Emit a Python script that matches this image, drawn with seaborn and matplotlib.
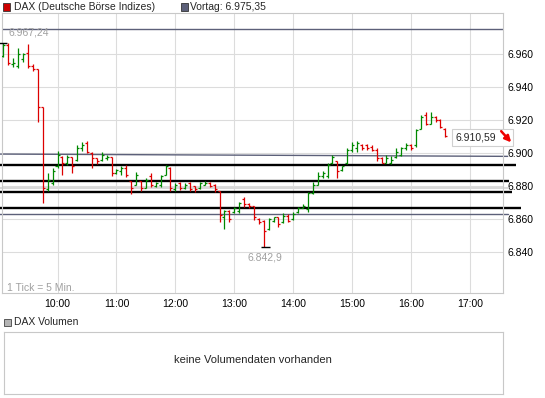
import pandas as pd
import matplotlib.pyplot as plt
import matplotlib.patches as mpatches
import seaborn as sns

# 5-minute OHLC bars of the DAX, 09:05 .. 16:35
times = pd.date_range("2012-01-01 09:05", periods=91, freq="5min")
opens = [6959, 6966, 6954, 6953, 6957, 6961, 6953, 6951, 6928, 6878,
         6882, 6892, 6898, 6894, 6898, 6896, 6903, 6906, 6900, 6897,
         6896, 6897, 6898, 6888, 6889, 6891, 6883, 6881, 6883, 6879,
         6886, 6880, 6881, 6887, 6891, 6878, 6882, 6879, 6882, 6880,
         6879, 6881, 6882, 6881, 6877, 6861.5, 6865, 6864, 6865, 6872,
         6869, 6868, 6860, 6859, 6854, 6859, 6861, 6858, 6862, 6860,
         6864, 6867, 6866, 6876, 6881, 6886, 6886, 6894, 6895, 6890,
         6894, 6902, 6903, 6905, 6905, 6904, 6902, 6897, 6894, 6894,
         6898, 6899, 6903, 6905, 6905, 6915, 6923, 6918, 6922, 6920,
         6915]
highs = [6967.24, 6967, 6957.7, 6963.8, 6960.8, 6966.5, 6954, 6951.2, 6928.3, 6887.8,
         6890.9, 6901.4, 6898.5, 6899, 6898, 6905, 6906.7, 6907.5, 6900.6, 6897.3,
         6901, 6899, 6898, 6890.3, 6892.3, 6892.9, 6883.4, 6888.8, 6883.4, 6884.8,
         6888.2, 6882.7, 6886.8, 6892.9, 6891.5, 6882.1, 6882.7, 6882.1, 6882.7, 6880.1,
         6882.7, 6883.2, 6882.7, 6881.2, 6877, 6865.6, 6865.6, 6867.6, 6870.6, 6873.6,
         6869.6, 6868.2, 6860.9, 6859.5, 6860.5, 6861.5, 6861.5, 6863.5, 6862.9, 6864.5,
         6867.6, 6869, 6876.7, 6882.7, 6888.8, 6889.2, 6893.9, 6899, 6895.3, 6892.5,
         6903.4, 6906.7, 6907.5, 6905.5, 6905.5, 6905, 6903, 6898, 6899, 6898.5,
         6903, 6904, 6906, 6905.5, 6914.8, 6923.3, 6924.9, 6924.9, 6922.8, 6920.8,
         6915.6]
lows = [6958.7, 6953.6, 6952.6, 6952, 6955.7, 6951.6, 6950, 6919.2, 6869.6, 6877.1,
        6880.7, 6891.3, 6886.8, 6892.9, 6887.8, 6895.3, 6901.4, 6900, 6891.3, 6893.3,
        6895.5, 6896, 6886.2, 6887.4, 6886.8, 6885.4, 6875.3, 6880.7, 6877.3, 6878.7,
        6879.7, 6879.7, 6879.7, 6886.8, 6877.3, 6877.3, 6877.7, 6878.1, 6877.3, 6876.7,
        6878.1, 6880.7, 6879.7, 6876.7, 6858.4, 6853.8, 6858, 6863.5, 6863.5, 6867.6,
        6867, 6859.5, 6856.9, 6842.9, 6853.4, 6858.4, 6855.4, 6857.5, 6858, 6859.5,
        6863.5, 6867, 6864.5, 6875.1, 6880.7, 6884.8, 6884.8, 6893.3, 6884.8, 6889.2,
        6893.5, 6901, 6901, 6902, 6902, 6901.4, 6895.3, 6893.9, 6893.9, 6893.3,
        6897.3, 6898.5, 6902, 6902, 6904, 6914.5, 6917.2, 6917.5, 6919.2, 6915.2,
        6910.1]
closes = [6966, 6955, 6955, 6960, 6960, 6953, 6951, 6928, 6879, 6884,
          6889, 6899, 6894, 6898, 6892, 6903, 6905, 6901, 6897, 6895,
          6899, 6898, 6888, 6890, 6891, 6887, 6879, 6887, 6879, 6884,
          6881, 6882, 6886, 6892, 6879, 6881, 6879, 6881, 6878, 6878,
          6882, 6882, 6880, 6878, 6862.5, 6865, 6860, 6867, 6870, 6869,
          6868, 6861, 6858, 6853, 6860, 6861, 6857, 6862, 6859, 6863,
          6867, 6868, 6876, 6881, 6886, 6888, 6893, 6898, 6889, 6892,
          6902, 6905, 6906, 6903, 6903, 6902, 6897, 6894, 6897, 6896,
          6901, 6903, 6905, 6903, 6914, 6922, 6918, 6922, 6920, 6916,
          6910.59]

prev_close = 6975.35
day_high = 6967.24
day_low = 6842.9
last_price = "6.910,59"

# lines drawn on the chart (levels and where they end, in hours)
black_levels = [6892.8, 6883.1, 6876.4, 6866.7]
black_ends = [17.78, 17.663, 17.714, 17.867]
trend_upper = ([9.0, 17.64], [6899.5, 6898.1])
trend_lower = ([9.0, 17.65], [6862.9, 6862.9])

hour_ticks = [10, 11, 12, 13, 14, 15, 16, 17]
price_ticks = [6840, 6860, 6880, 6900, 6920, 6940, 6960]

sns.set_theme(style="white")
plt.rcParams['font.family'] = ['Liberation Sans', 'DejaVu Sans']

df = pd.DataFrame({"time": times, "open": opens, "high": highs,
                   "low": lows, "close": closes})
df["t"] = df["time"].dt.hour + df["time"].dt.minute / 60
df["col"] = ["#008800" if c > o else "#dd0000" for o, c in zip(df["open"], df["close"])]

W, H = 545, 398
fig = plt.figure(figsize=(W / 100, H / 100), dpi=100)
ax = fig.add_axes([2 / W, 1 - 293.3 / H, 501 / W, 280.3 / H])

grid_c = "#dcdcdc"
for s in ax.spines.values():
    s.set_color("#c8c8c8")
    s.set_linewidth(0.8)

ax.set_xlim(9.058, 17.561)
ax.set_ylim(6814.9, 6985.2)
for h in hour_ticks:
    ax.axvline(h, color=grid_c, lw=0.8, zorder=0)
for p in price_ticks:
    ax.axhline(p, color=grid_c, lw=0.8, zorder=0)

# user lines
ax.plot([9.0, 17.561], [prev_close, prev_close], color="#5c6079", lw=1.0, zorder=1)
ax.plot(trend_upper[0], trend_upper[1], color="#5c6079", lw=1.0, clip_on=False, zorder=1)
ax.plot(trend_lower[0], trend_lower[1], color="#5c6079", lw=1.0, clip_on=False, zorder=1)
ax.plot([9.0, 17.65], [6878.6, 6878.6], color="#d8d8d8", lw=1.5, clip_on=False, zorder=1)
for lvl, end in zip(black_levels, black_ends):
    ax.plot([9.0, end], [lvl, lvl], color="black", lw=1.7, clip_on=False, zorder=2,
            solid_capstyle="butt")

# OHLC bars
d = 0.034
ax.vlines(df["t"], df["low"], df["high"], colors=df["col"], lw=0.9, zorder=3)
ax.hlines(df["open"], df["t"] - d, df["t"], colors=df["col"], lw=0.9, zorder=3)
ax.hlines(df["close"], df["t"], df["t"] + d, colors=df["col"], lw=0.9, zorder=3)

# high / low markers
ax.hlines(day_high, 9.0, 9.15, color="black", lw=1.0, clip_on=False, zorder=4)
ax.text(9.16, 6973.1, "6.967,24", color="#a0a0a0", fontsize=7.5, va="center", ha="left")
ax.hlines(day_low, 13.448, 13.601, color="black", lw=1.0, zorder=4)
ax.text(13.52, 6836.4, "6.842,9", color="#a0a0a0", fontsize=7.5, va="center", ha="center")
ax.text(9.136, 6818.0, "1 Tick = 5 Min.", color="#a0a0a0", fontsize=7.5, va="center", ha="left")

# last price box
box = mpatches.Rectangle((16.694, 6904.4), 1.041, 10.2, facecolor="white",
                         edgecolor="#d0d0d0", lw=0.8, clip_on=False, zorder=5)
ax.add_patch(box)
ax.text(16.76, 6909.5, last_price, fontsize=7.5, va="center", ha="left", zorder=6)
ax.annotate("", xy=(17.70, 6906.6), xytext=(17.53, 6913.4),
            arrowprops=dict(arrowstyle="-|>", color="#ee0000", lw=1.8,
                            mutation_scale=9, shrinkA=0, shrinkB=0),
            annotation_clip=False, zorder=6)

ax.set_xticks(hour_ticks)
ax.set_xticklabels([f"{h}:00" for h in hour_ticks])
ax.set_yticks(price_ticks)
ax.set_yticklabels([f"{p:,.0f}".replace(",", ".") for p in price_ticks])
ax.yaxis.tick_right()
ax.tick_params(axis="both", length=0, labelsize=7.5, colors="black")
ax.tick_params(axis="y", pad=3)
ax.tick_params(axis="x", pad=4)
ax.grid(False)

# header
fig.add_artist(mpatches.Rectangle((3.3 / W, 1 - 10.5 / H), 7 / W, 7 / H,
                                  facecolor="#cc0000", edgecolor="#333333", lw=0.6,
                                  transform=fig.transFigure))
fig.text(14 / W, 1 - 7 / H, "DAX (Deutsche Börse Indizes)", fontsize=7.5, va="center")
fig.add_artist(mpatches.Rectangle((180.5 / W, 1 - 10.5 / H), 7 / W, 7 / H,
                                  facecolor="#5c6079", edgecolor="#333333", lw=0.6,
                                  transform=fig.transFigure))
fig.text(190 / W, 1 - 7 / H, "Vortag: 6.975,35", fontsize=7.5, va="center")

# volume panel
fig.add_artist(mpatches.Rectangle((3.5 / W, 1 - 325.5 / H), 7 / W, 7 / H,
                                  facecolor="#b4b4b4", edgecolor="#444444", lw=0.6,
                                  transform=fig.transFigure))
fig.text(14 / W, 1 - 322 / H, "DAX Volumen", fontsize=7.5, va="center")
vax = fig.add_axes([3.5 / W, 1 - 394 / H, 499.5 / W, 61.6 / H])
vax.set_xticks([])
vax.set_yticks([])
for s in vax.spines.values():
    s.set_color("#c8c8c8")
    s.set_linewidth(0.8)
vax.text(0.5, 0.55, "keine Volumendaten vorhanden", fontsize=8, ha="center",
         va="center", transform=vax.transAxes)

fig.savefig("out.png", dpi=100)
